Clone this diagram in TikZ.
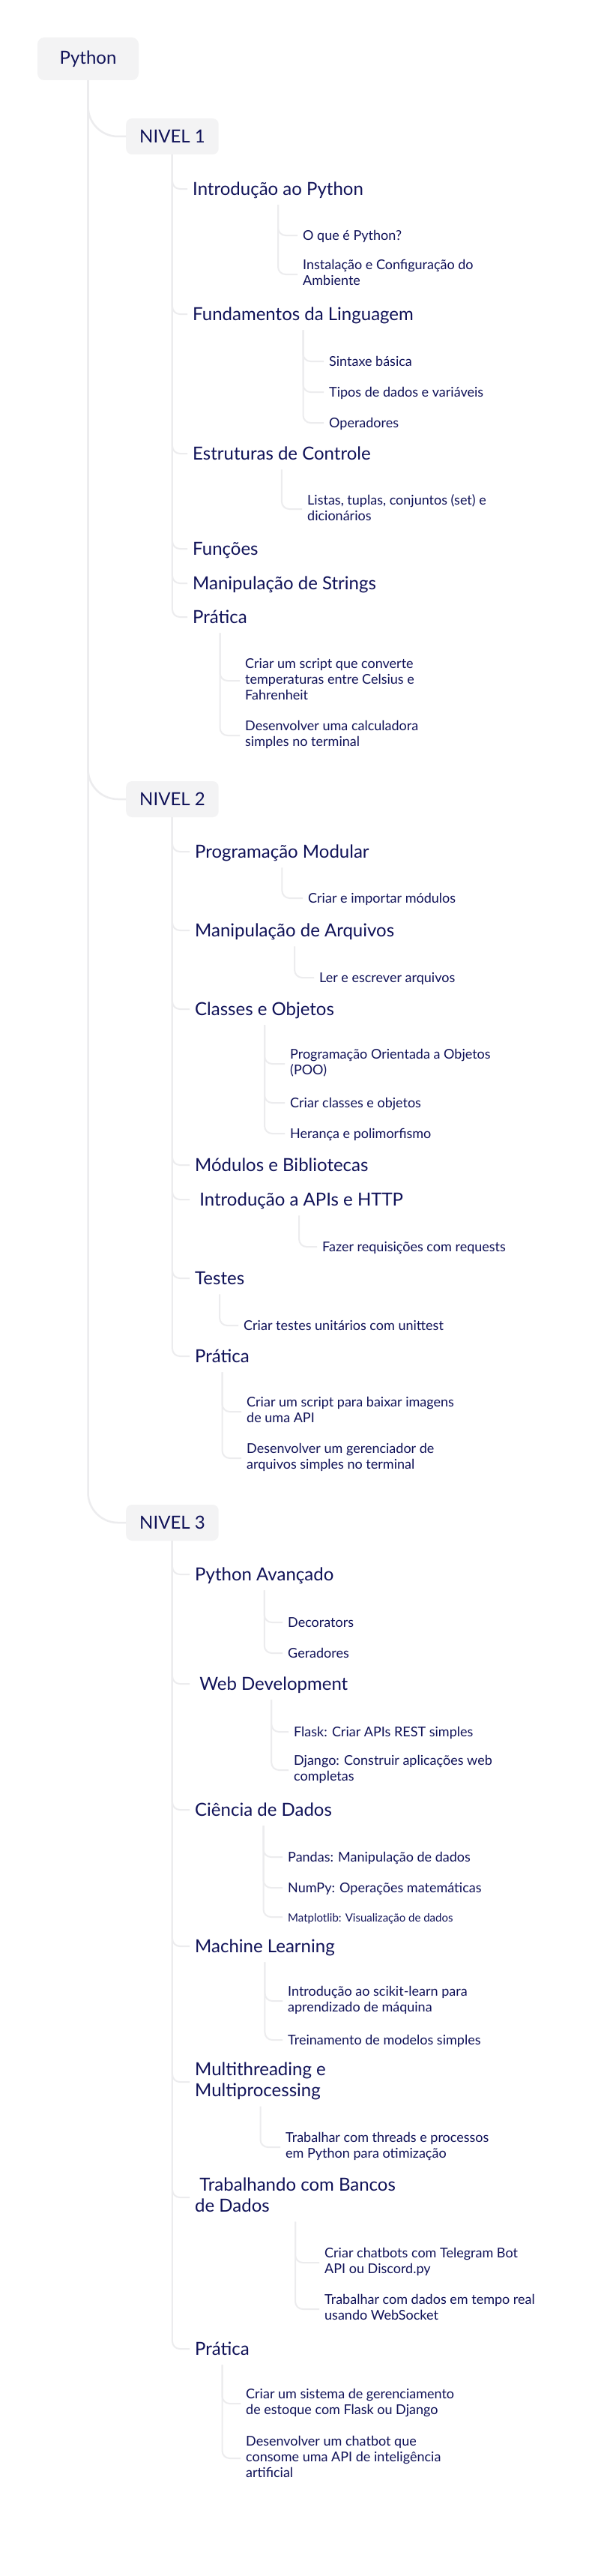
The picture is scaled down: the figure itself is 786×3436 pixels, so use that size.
\documentclass[tikz,border=0pt]{standalone}
\usepackage{fontspec}
\setmainfont{Lato}
\definecolor{txt}{RGB}{16,18,88}
\definecolor{linec}{RGB}{236,236,238}
\definecolor{boxc}{RGB}{243,243,244}
\tikzset{
  bigtxt/.style={anchor=west, inner sep=0pt, align=left, text=txt,
    font=\fontsize{24}{28}\selectfont,
    execute at begin node={\rule[-6pt]{0pt}{29.3pt}},
    execute at end node={\rule[-6pt]{0pt}{29.3pt}}},
  leaf/.style={anchor=west, inner sep=0pt, align=left, text=txt,
    font=\fontsize{18}{21}\selectfont,
    execute at begin node={\rule[-4.5pt]{0pt}{22.3pt}},
    execute at end node={\rule[-4.5pt]{0pt}{22.3pt}}},
  tinyleaf/.style={leaf, font=\fontsize{15}{18}\selectfont},
  rootbox/.style={fill=boxc, rounded corners=9pt, text=txt, inner sep=0pt,
    font=\fontsize{24}{28}\selectfont, minimum width=135pt, minimum height=57pt},
  lvbox/.style={fill=boxc, rounded corners=8pt, text=txt, inner xsep=18pt, inner ysep=0pt,
    font=\fontsize{24}{28}\selectfont, minimum height=48pt, anchor=west},
  trunk/.style={draw=linec, line width=2.5pt, rounded corners=40pt},
  conn/.style={draw=linec, line width=2pt, rounded corners=10pt},
}
\begin{document}
\begin{tikzpicture}[x=1pt, y=-1pt]
\useasboundingbox (0,0) rectangle (786,3436);
\fill[white] (0,0) rectangle (786,3436);

% ---------- nodes ----------
\node[rootbox] (py) at (117.5,78.5) {Python};

\node[lvbox] (n1) at (168,182) {NIVEL 1};
\node[bigtxt] (intro) at (257,252) {Introdução ao Python};
\node[leaf] (introa) at (404,314) {O que é Python?};
\node[leaf] (introb) at (404,366) {Instalação e Configuração do\\Ambiente};
\node[bigtxt] (fund) at (257,419) {Fundamentos da Linguagem};
\node[leaf] (funda) at (439,482) {Sintaxe básica};
\node[leaf] (fundb) at (439,523) {Tipos de dados e variáveis};
\node[leaf] (fundc) at (439,564) {Operadores};
\node[bigtxt] (estr) at (257,605) {Estruturas de Controle};
\node[leaf] (estra) at (410,679) {Listas, tuplas, conjuntos (set) e\\dicionários};
\node[bigtxt] (func) at (257,732) {Funções};
\node[bigtxt] (strs) at (257,778) {Manipulação de Strings};
\node[bigtxt] (pra) at (257,823) {Prática};
\node[leaf] (praa) at (327,908) {Criar um script que converte\\temperaturas entre Celsius e\\Fahrenheit};
\node[leaf] (prab) at (327,981) {Desenvolver uma calculadora\\simples no terminal};

\node[lvbox] (n2) at (168,1066) {NIVEL 2};
\node[bigtxt] (modu) at (260,1136) {Programação Modular};
\node[leaf] (modua) at (411,1198) {Criar e importar módulos};
\node[bigtxt] (arq) at (260,1241) {Manipulação de Arquivos};
\node[leaf] (arqa) at (426,1304) {Ler e escrever arquivos};
\node[bigtxt] (cls) at (260,1346) {Classes e Objetos};
\node[leaf] (clsa) at (387,1419) {Programação Orientada a Objetos\\(POO)};
\node[leaf] (clsb) at (387,1471) {Criar classes e objetos};
\node[leaf] (clsc) at (387,1512) {Herança e polimorfismo};
\node[bigtxt] (mods) at (260,1554) {Módulos e Bibliotecas};
\node[bigtxt] (apis) at (260,1600) {\ Introdução a APIs e HTTP};
\node[leaf] (apisa) at (430,1663) {Fazer requisições com requests};
\node[bigtxt] (tst) at (260,1705) {Testes};
\node[leaf] (tsta) at (325,1768) {Criar testes unitários com unittest};
\node[bigtxt] (prb) at (260,1809) {Prática};
\node[leaf] (prba) at (329,1883) {Criar um script para baixar imagens\\de uma API};
\node[leaf] (prbb) at (329,1945) {Desenvolver um gerenciador de\\arquivos simples no terminal};

\node[lvbox] (n3) at (168,2031) {NIVEL 3};
\node[bigtxt] (adv) at (260,2100) {Python Avançado};
\node[leaf] (adva) at (384,2164) {Decorators};
\node[leaf] (advb) at (384,2205) {Geradores};
\node[bigtxt] (web) at (260,2246) {\ Web Development};
\node[leaf] (weba) at (392,2310) {Flask: Criar APIs REST simples};
\node[leaf] (webb) at (392,2361) {Django: Construir aplicações web\\completas};
\node[bigtxt] (cie) at (260,2414) {Ciência de Dados};
\node[leaf] (ciea) at (384,2477) {Pandas: Manipulação de dados};
\node[leaf] (cieb) at (384,2518) {NumPy: Operações matemáticas};
\node[tinyleaf] (ciec) at (384,2557) {Matplotlib: Visualização de dados};
\node[bigtxt] (ml) at (260,2596) {Machine Learning};
\node[leaf] (mla) at (384,2669) {Introdução ao scikit-learn para\\aprendizado de máquina};
\node[leaf] (mlb) at (384,2721) {Treinamento de modelos simples};
\node[bigtxt] (mt) at (260,2777) {Multithreading e\\Multiprocessing};
\node[leaf] (mta) at (381,2864) {Trabalhar com threads e processos\\em Python para otimização};
\node[bigtxt] (db) at (260,2931) {\ Trabalhando com Bancos\\de Dados};
\node[leaf] (dba) at (433,3018) {Criar chatbots com Telegram Bot\\API ou Discord.py};
\node[leaf] (dbb) at (433,3080) {Trabalhar com dados em tempo real\\usando WebSocket};
\node[bigtxt] (prc) at (260,3133) {Prática};
\node[leaf] (prca) at (328,3206) {Criar um sistema de gerenciamento\\de estoque com Flask ou Django};
\node[leaf] (prcb) at (328,3279) {Desenvolver um chatbot que\\consome uma API de inteligência\\artificial};

% ---------- connectors ----------
\foreach \n in {n1,n2,n3} \draw[trunk] (py.south) |- (\n.west);

\foreach \c in {intro,fund,estr,func,strs,pra} \draw[conn] (n1.south) |- ([xshift=-7pt]\c.west);
\foreach \c in {modu,arq,cls,mods,apis,tst,prb} \draw[conn] (n2.south) |- ([xshift=-7pt]\c.west);
\foreach \c in {adv,web,cie,ml,mt,db,prc} \draw[conn] (n3.south) |- ([xshift=-7pt]\c.west);

\foreach \p/\c in {intro/introa,intro/introb,fund/funda,fund/fundb,fund/fundc,
  estr/estra,pra/praa,pra/prab,modu/modua,arq/arqa,cls/clsa,cls/clsb,cls/clsc,
  apis/apisa,tst/tsta,prb/prba,prb/prbb,adv/adva,adv/advb,web/weba,web/webb,
  cie/ciea,cie/cieb,cie/ciec,ml/mla,ml/mlb,mt/mta,db/dba,db/dbb,prc/prca,prc/prcb}
  \draw[conn] ([yshift=-6.5pt]\p.south) |- ([xshift=-7pt]\c.west);
\end{tikzpicture}
\end{document}
